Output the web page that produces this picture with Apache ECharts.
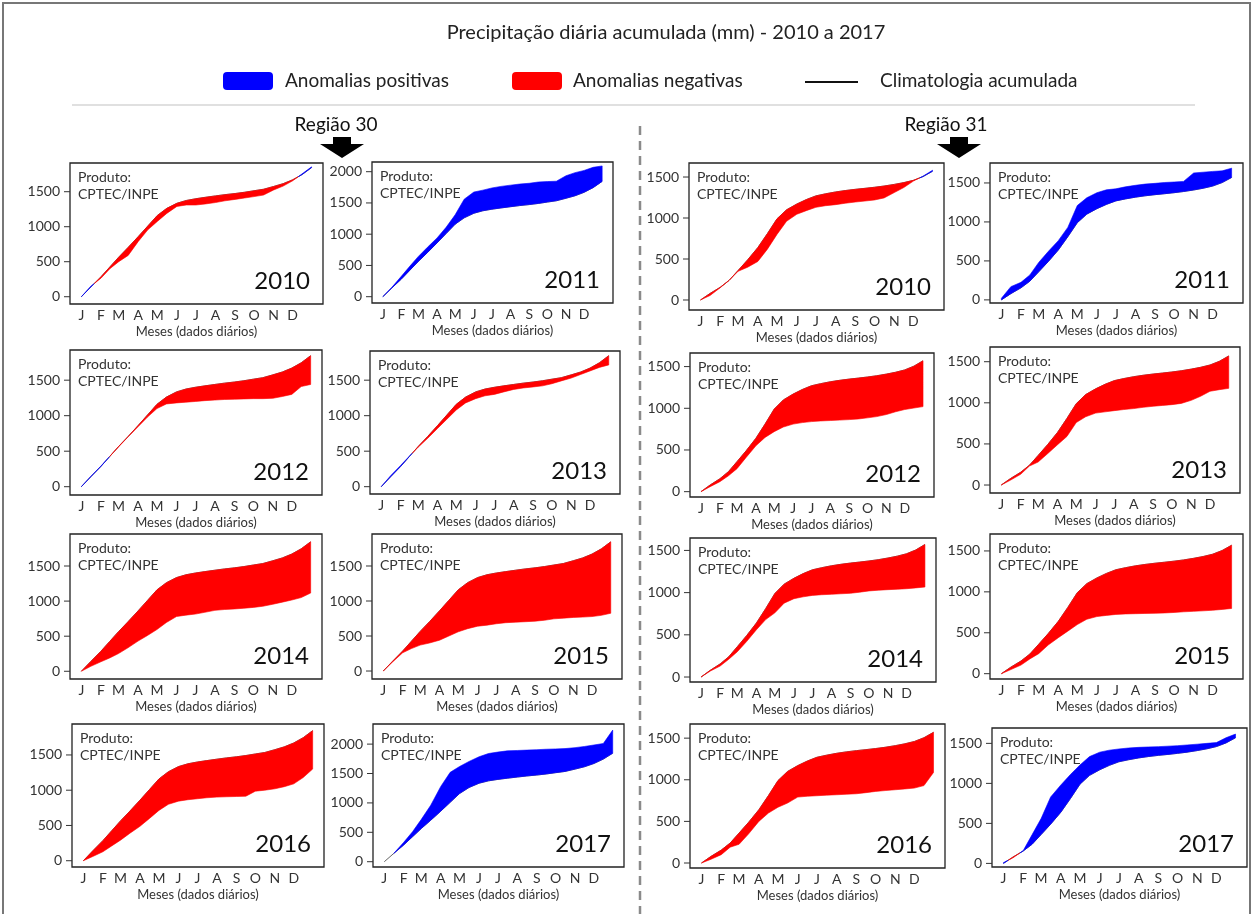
<!DOCTYPE html>
<html>
<head>
<meta charset="utf-8">
<script src="https://cdn.jsdelivr.net/npm/echarts@6/dist/echarts.min.js"></script>
<style>
html,body{margin:0;padding:0;background:#fff;}
#c{width:1254px;height:914px;}
</style>
</head>
<body>
<div id="c"></div>
<script>
// ---- data ----
const days = [1,16,32,46,60,75,91,106,121,136,152,167,182,197,213,228,244,259,274,289,305,320,335,350,365];
const monthTicks = [1,32,60,91,121,152,182,213,244,274,305,335];
const monthLabels = ['J','F','M','A','M','J','J','A','S','O','N','D'];
const yTickValues = [0,500,1000,1500,2000];

const clim30 = [0,140,285,425,565,705,860,1010,1160,1262,1335,1375,1400,1420,1440,1458,1474,1492,1514,1535,1575,1615,1670,1745,1845];
const clim31 = [0,80,155,240,360,490,640,810,990,1100,1170,1225,1270,1295,1318,1335,1350,1362,1375,1390,1410,1432,1460,1505,1570];

const obs30_2010 = [0,150,265,400,500,590,790,955,1075,1190,1290,1310,1310,1325,1345,1370,1390,1410,1430,1452,1525,1580,1655,1755,1855];
const obs30_2011 = [0,150,330,490,645,790,940,1110,1310,1560,1674,1705,1740,1765,1785,1802,1815,1835,1842,1848,1935,1985,2020,2070,2092];
const obs30_2012 = [0,145,290,425,560,700,845,980,1100,1165,1180,1190,1200,1212,1220,1228,1232,1236,1240,1240,1245,1270,1300,1410,1440];
const obs30_2013 = [0,155,300,430,555,680,820,950,1080,1180,1240,1280,1300,1335,1370,1390,1405,1420,1450,1490,1530,1580,1630,1680,1715];
const obs30_2014 = [0,70,135,190,252,335,430,510,595,695,780,800,815,840,868,880,888,898,910,926,955,985,1015,1050,1115];
const obs30_2015 = [0,130,260,320,370,400,440,500,560,605,640,655,675,690,698,704,712,725,745,755,765,770,778,795,825];
const obs30_2016 = [0,60,127,210,292,390,489,600,714,800,845,865,879,893,902,907,911,915,986,1000,1020,1050,1090,1180,1300];
const obs30_2017 = [0,140,330,510,720,960,1280,1520,1620,1705,1785,1840,1865,1885,1892,1898,1905,1913,1918,1924,1940,1960,1985,2010,2238];

const obs31_2010 = [0,55,150,240,350,400,470,620,800,960,1045,1090,1130,1150,1163,1180,1195,1207,1220,1245,1310,1372,1450,1510,1582];
const obs31_2011 = [20,170,225,320,480,620,760,930,1210,1310,1375,1412,1425,1450,1470,1485,1495,1506,1512,1520,1628,1638,1648,1655,1690];
const obs31_2012 = [0,60,120,190,275,410,550,650,720,775,810,828,840,848,853,858,864,872,885,900,925,958,985,1003,1020];
const obs31_2013 = [0,60,130,230,280,380,490,590,760,830,875,890,905,918,930,945,958,968,978,993,1030,1080,1140,1160,1176];
const obs31_2014 = [0,70,130,210,300,420,560,680,760,875,928,950,967,975,980,986,992,1005,1020,1028,1035,1040,1046,1056,1066];
const obs31_2015 = [0,50,105,180,245,350,440,520,600,665,698,712,724,730,733,736,738,742,748,756,762,768,775,785,797];
const obs31_2016 = [0,45,100,190,225,350,500,600,670,720,792,802,808,815,820,826,832,845,860,870,880,890,900,930,1088];
const obs31_2017 = [10,70,160,360,560,830,980,1110,1230,1335,1390,1415,1430,1442,1450,1455,1459,1465,1471,1480,1490,1500,1510,1570,1616];

// ---- layout (box: left, top, right, bottom in px; y range) ----
const panels = [
  {year:'2010', clim:clim30, obs:obs30_2010, box:[70,163,323,304],  y:[-104,1910]},
  {year:'2011', clim:clim30, obs:obs30_2011, box:[372,162,613,303], y:[-101,2155]},
  {year:'2010', clim:clim31, obs:obs31_2010, box:[689,163,944,310], y:[-122,1671]},
  {year:'2011', clim:clim31, obs:obs31_2011, box:[990,163,1243,303],y:[-40,1756]},
  {year:'2012', clim:clim30, obs:obs30_2012, box:[70,350,322,495],  y:[-117,1925]},
  {year:'2013', clim:clim30, obs:obs30_2013, box:[370,351,620,494], y:[-103,1911]},
  {year:'2012', clim:clim31, obs:obs31_2012, box:[690,353,934,497], y:[-64,1663]},
  {year:'2013', clim:clim31, obs:obs31_2013, box:[990,347,1240,493],y:[-97,1679]},
  {year:'2014', clim:clim30, obs:obs30_2014, box:[70,534,322,679],  y:[-110,1956]},
  {year:'2015', clim:clim30, obs:obs30_2015, box:[372,534,622,679], y:[-114,1957]},
  {year:'2014', clim:clim31, obs:obs31_2014, box:[690,538,936,682], y:[-59,1647]},
  {year:'2015', clim:clim31, obs:obs31_2015, box:[990,534,1243,679],y:[-65,1707]},
  {year:'2016', clim:clim30, obs:obs30_2016, box:[72,724,324,867],  y:[-89,1939]},
  {year:'2017', clim:clim30, obs:obs30_2017, box:[373,724,624,867], y:[-90,2342]},
  {year:'2016', clim:clim31, obs:obs31_2016, box:[690,724,945,868], y:[-60,1670]},
  {year:'2017', clim:clim31, obs:obs31_2017, box:[992,728,1247,867],y:[-45,1692]}
];

const FONT = 'Lato, "Open Sans", sans-serif';
const TXT = '#333';
const BLUE = '#0000ff', RED = '#ff0000';
const XMIN = -17, XMAX = 383;

const grids = [], xAxes = [], yAxes = [], series = [], graphics = [];

// band between observed and climatology: one polygon per run of equal sign
function makeBandRenderer(obs, clim){
  return function(params, api){
    const pts = [];
    for (let k=0;k<days.length;k++){
      pts.push([days[k], obs[k], clim[k]]);
      if (k<days.length-1){
        const g0=obs[k]-clim[k], g1=obs[k+1]-clim[k+1];
        if ((g0>0 && g1<0) || (g0<0 && g1>0)){
          const t=g0/(g0-g1);
          const dm=days[k]+t*(days[k+1]-days[k]);
          const vm=clim[k]+t*(clim[k+1]-clim[k]);
          pts.push([dm, vm, vm]);
        }
      }
    }
    const runs=[]; let cur=null;
    for (let i=0;i<pts.length-1;i++){
      const s = Math.sign((pts[i][1]-pts[i][2])+(pts[i+1][1]-pts[i+1][2]));
      if (s===0){ cur=null; continue; }
      if (cur && cur.s===s && cur.end===i){ cur.end=i+1; }
      else { cur={s:s, start:i, end:i+1}; runs.push(cur); }
    }
    return {type:'group', children: runs.map(r=>{
      const up=[], lo=[];
      for (let i=r.start;i<=r.end;i++){ up.push(api.coord([pts[i][0], pts[i][1]])); lo.push(api.coord([pts[i][0], pts[i][2]])); }
      const col = r.s>0 ? BLUE : RED;
      return {type:'polygon', shape:{points: up.concat(lo.reverse())}, style:{fill:col, stroke:col, lineWidth:0.6}};
    })};
  };
}
// y-axis tick marks drawn outside the left edge of the box, positioned by the y scale
function renderTick(params, api){
  const p=api.coord([XMIN, api.value(1)]);
  return {type:'line', shape:{x1:p[0]-6, y1:p[1], x2:p[0], y2:p[1]}, style:{stroke:'#333', lineWidth:1}};
}

panels.forEach((p, i) => {
  const [L, T, R, B] = p.box;
  grids.push({left:L, top:T, width:R-L, height:B-T, show:true, borderColor:'#222', borderWidth:1.3, backgroundColor:'rgba(0,0,0,0)'});
  xAxes.push({
    type:'value', gridIndex:i, min:XMIN, max:XMAX,
    axisLine:{show:false}, axisTick:{show:false}, splitLine:{show:false},
    axisLabel:{customValues:monthTicks, formatter:(v)=>monthLabels[monthTicks.indexOf(v)] || '', fontSize:14, color:TXT, fontFamily:FONT, margin:4},
    name:'Meses (dados diários)', nameLocation:'middle', nameGap:21,
    nameTextStyle:{fontSize:13, color:TXT, fontFamily:FONT}
  });
  const yt = yTickValues.filter(v => v <= p.y[1]);
  yAxes.push({
    type:'value', gridIndex:i, min:p.y[0], max:p.y[1],
    axisLine:{show:false}, splitLine:{show:false}, axisTick:{show:false},
    axisLabel:{customValues:yt, formatter:(v)=>String(v), fontSize:14, color:TXT, fontFamily:FONT, margin:10}
  });
  const cl = days.map((d,k)=>[d, p.clim[k]]);
  series.push({type:'line', xAxisIndex:i, yAxisIndex:i, data:cl, symbol:'none', z:2,
    lineStyle:{color:'#666', width:1}, silent:true});
  series.push({type:'custom', xAxisIndex:i, yAxisIndex:i, data:[[days[0], p.clim[0]]], renderItem:makeBandRenderer(p.obs, p.clim), z:3, silent:true,
    encode:{x:0, y:1}});
  series.push({type:'custom', xAxisIndex:i, yAxisIndex:i, data:yt.map(v=>[XMIN, v]), renderItem:renderTick, z:3, silent:true, clip:false,
    encode:{x:0, y:1}});

  graphics.push({type:'text', left:L+8, top:T+6, z:10, style:{text:'Produto:\nCPTEC/INPE', fill:TXT, font:'14px '+FONT, lineHeight:17}});
  graphics.push({type:'text', x:R-13, y:B-23, z:10, style:{text:p.year, fill:'#111', font:'24px '+FONT, textAlign:'right', textVerticalAlign:'middle'}});
});

// header & decorations
graphics.push({type:'rect', shape:{x:3, y:3, width:1247, height:930}, style:{fill:'none', stroke:'#777', lineWidth:2}});
graphics.push({type:'text', x:666, y:33, style:{text:'Precipitação diária acumulada (mm) - 2010 a 2017', fill:'#222', font:'20px '+FONT, textAlign:'center', textVerticalAlign:'middle'}});
graphics.push({type:'rect', shape:{x:223, y:72, width:50, height:18, r:4}, style:{fill:BLUE}});
graphics.push({type:'text', x:285, y:81, style:{text:'Anomalias positivas', fill:'#222', font:'19px '+FONT, textVerticalAlign:'middle'}});
graphics.push({type:'rect', shape:{x:512, y:72, width:50, height:18, r:4}, style:{fill:RED}});
graphics.push({type:'text', x:573, y:81, style:{text:'Anomalias negativas', fill:'#222', font:'19px '+FONT, textVerticalAlign:'middle'}});
graphics.push({type:'line', shape:{x1:805, y1:82, x2:858, y2:82}, style:{stroke:'#111', lineWidth:2}});
graphics.push({type:'text', x:880, y:81, style:{text:'Climatologia acumulada', fill:'#222', font:'19px '+FONT, textVerticalAlign:'middle'}});
graphics.push({type:'line', shape:{x1:72, y1:105, x2:1195, y2:105}, style:{stroke:'#e0e0e0', lineWidth:2}});
graphics.push({type:'text', x:336, y:125, style:{text:'Região 30', fill:'#111', font:'19px '+FONT, textAlign:'center', textVerticalAlign:'middle'}});
graphics.push({type:'text', x:946, y:125, style:{text:'Região 31', fill:'#111', font:'19px '+FONT, textAlign:'center', textVerticalAlign:'middle'}});
function arrow(cx){
  return {type:'polygon', shape:{points:[[cx-9,137],[cx+9,137],[cx+9,144],[cx+22,144],[cx,158],[cx-22,144],[cx-9,144]]}, style:{fill:'#000'}};
}
graphics.push(arrow(342));
graphics.push(arrow(959));
graphics.push({type:'line', shape:{x1:640, y1:126, x2:640, y2:914}, style:{stroke:'#8a8a8a', lineWidth:2.5, lineDash:[9,6]}});

const chart = echarts.init(document.getElementById('c'), null, {renderer:'canvas'});
chart.setOption({
  animation:false,
  backgroundColor:'#ffffff',
  grid:grids, xAxis:xAxes, yAxis:yAxes, series:series,
  graphic:graphics
});
</script>
</body>
</html>
